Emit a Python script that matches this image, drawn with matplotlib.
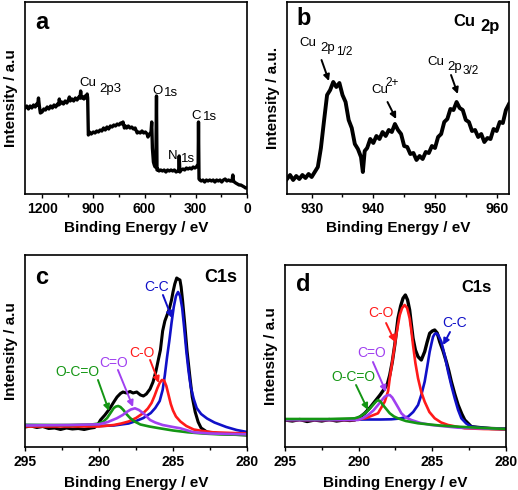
import matplotlib
matplotlib.use("Agg")
import matplotlib.pyplot as plt

plt.rcParams["font.family"] = ["Liberation Sans", "DejaVu Sans"]

# ─────────────────────────────────────────────
# (a) survey spectrum
# ─────────────────────────────────────────────
survey_be = [1300, 1290, 1280, 1270, 1260, 1250, 1240, 1232, 1226, 1221, 1216, 1210,
             1200, 1190, 1180, 1170, 1160, 1150, 1140, 1130, 1120, 1110, 1103, 1099,
             1095, 1085, 1075, 1065, 1055, 1046, 1040, 1035, 1025, 1015, 1005, 995,
             985, 978, 974, 970, 962, 955, 948, 941, 936, 933, 929, 922, 912, 900,
             890, 880, 870, 860, 850, 840, 830, 820, 810, 800, 790, 780, 770, 760,
             750, 740, 732, 726, 718, 712, 705, 695, 685, 675, 665, 655, 648, 643,
             635, 625, 615, 605, 595, 585, 580, 570, 562, 558, 554, 548, 543, 538,
             534, 530, 527, 523, 515, 505, 495, 485, 475, 465, 455, 445, 435, 425,
             415, 405, 400, 397, 393, 385, 375, 365, 355, 345, 335, 325, 315, 305,
             297, 290, 286, 284, 281, 276, 268, 258, 248, 238, 228, 218, 208, 198,
             188, 178, 168, 158, 148, 138, 128, 118, 108, 98, 88, 83, 79, 74, 66,
             56, 46, 36, 26, 16, 8, 0]
survey_int = [86, 88, 85, 88, 86, 89, 87, 90, 89, 96, 88, 81,
              82, 85, 84, 87, 85, 88, 86, 89, 87, 90, 89, 95,
              90, 92, 90, 93, 91, 94, 97, 93, 95, 93, 96, 94,
              97, 96, 103, 96, 97, 95, 98, 96, 100, 96, 59, 62, 60, 62,
              61, 63, 62, 64, 63, 66, 64, 67, 65, 68, 67, 69, 68, 70,
              69, 71, 70, 72, 66, 68, 66, 68, 66, 67, 65, 66, 63, 61,
              62, 61, 63, 61, 62, 60, 57, 60, 62, 72, 46, 32, 29, 27,
              28, 98, 24, 25, 23, 24, 23, 24, 22, 24, 23, 24, 23, 24,
              22, 23, 24, 38, 22, 24, 25, 24, 26, 25, 26, 25, 27, 26,
              27, 29, 30, 72, 15, 14, 13, 14, 12, 14, 13, 14, 13, 14,
              12, 14, 13, 14, 12, 14, 15, 13, 14, 13, 13, 19, 13, 12, 11,
              10, 9, 9, 8, 7, 6, 6]

# ─────────────────────────────────────────────
# (b) Cu 2p
# ─────────────────────────────────────────────
cu_be = [926.0, 926.5, 927.0, 927.5, 928.0, 928.5, 929.0, 929.5, 930.0, 930.5,
         931.0, 931.5, 932.0, 932.5, 933.0, 933.5, 934.0, 934.5, 935.0, 935.5,
         936.0, 936.5, 937.0, 937.5, 938.0, 938.3, 938.6, 939.0, 939.5, 940.0,
         940.5, 941.0, 941.5, 942.0, 942.5, 943.0, 943.5, 944.0, 944.5, 945.0,
         945.5, 946.0, 946.5, 947.0, 947.5, 948.0, 948.5, 949.0, 949.5, 950.0,
         950.5, 951.0, 951.5, 952.0, 952.5, 953.0, 953.5, 954.0, 954.5, 955.0,
         955.5, 956.0, 956.5, 957.0, 957.5, 958.0, 958.5, 959.0, 959.5, 960.0,
         960.5, 961.0, 961.5, 962.0]
cu_int = [15, 19, 14, 18, 15, 19, 16, 20, 17, 22,
          27, 46, 73, 99, 104, 112, 107, 111, 99, 92,
          74, 66, 50, 45, 37, 22, 43, 46, 55, 51,
          58, 55, 62, 58, 64, 62, 70, 64, 60, 48,
          47, 40, 41, 34, 38, 35, 42, 41, 48, 46,
          57, 60, 72, 75, 85, 84, 92, 86, 84, 74,
          72, 63, 64, 57, 60, 52, 56, 55, 65, 63,
          72, 71, 84, 90]

# ─────────────────────────────────────────────
# (c) C1s, sample 1
# ─────────────────────────────────────────────
c_exp_be = [295, 294.6, 294.2, 293.8, 293.4, 293, 292.6, 292.2, 291.8, 291.4, 291,
            290.6, 290.3, 290.05, 289.9, 289.6, 289.26, 289.0, 288.78, 288.55, 288.38,
            288.15, 287.9, 287.7, 287.45, 287.2, 287.0, 286.8, 286.55, 286.35, 286.15,
            285.98, 285.85, 285.7, 285.55, 285.4, 285.25, 285.1, 285.0, 284.88, 284.75,
            284.65, 284.53, 284.45, 284.35, 284.2, 284.05, 283.85, 283.7, 283.5, 283.3,
            283.1, 282.7, 282, 281, 280]
c_exp_int = [20, 21, 19.5, 20.5, 18.5, 19, 17.5, 19, 18, 18.5, 17.5,
             18.8, 19.5, 23, 27, 32, 38.7, 45, 50, 53.5, 55,
             54, 55.5, 54, 55, 52, 51, 53, 58, 65, 76,
             88, 97, 116, 126, 132, 138, 147, 155, 163, 169,
             168, 167, 160, 146, 122, 96, 69, 50, 35, 25,
             19, 15, 13.5, 12.7, 12]
c_cc_be = [295, 292, 290, 289, 288, 287.5, 287, 286.5, 286.2, 285.9, 285.7, 285.55,
           285.4, 285.25, 285.1, 284.95, 284.8, 284.66, 284.52, 284.38, 284.25, 284.1,
           283.95, 283.8, 283.6, 283.4, 283.1, 282.7, 282.2, 281.4, 280.7, 280]
c_cc_int = [22, 21.5, 21, 21.5, 23.5, 26, 29, 34, 39, 46, 57, 72,
            90, 106, 124, 140, 151, 155, 151, 139, 120, 96,
            76, 60, 48, 39, 33, 28.5, 24.5, 20, 17, 15]
c_co_be = [295, 292, 290, 289, 288.5, 288, 287.5, 287, 286.7, 286.45, 286.25, 286.05,
           285.9, 285.75, 285.6, 285.45, 285.3, 285.15, 285, 284.8, 284.5, 284.1,
           283.6, 283, 282.3, 281, 280]
c_co_int = [20.5, 20.5, 20.5, 22, 23.5, 25.5, 29, 34, 38.5, 44, 51, 59,
            64, 67, 66.5, 61, 52, 43, 36.5, 30.5, 25.5, 21,
            17.5, 16, 14.7, 14, 13.5]
c_c_o_be = [295, 292, 290, 289.4, 288.8, 288.4, 288.1, 287.85, 287.57, 287.3, 287.0,
            286.75, 286.55, 286.2, 285.7, 285, 284.5, 283.6, 282.5, 281, 280]
c_c_o_int = [21.5, 22, 22.7, 25, 28.7, 32, 35.3, 37.5, 38.7, 37, 33.7,
             30, 27, 24.5, 22, 20, 18.7, 14.7, 13.5, 13, 12.7]
c_occo_be = [295, 292, 290.5, 290, 289.7, 289.45, 289.2, 289.0, 288.85, 288.7, 288.55,
             288.35, 288.15, 287.9, 287.6, 287.2, 286.6, 285.9, 285, 284, 283, 282, 280]
c_occo_int = [22, 22, 22.5, 23.5, 25.5, 29, 34.5, 39, 40.5, 41, 40,
              37, 33, 29, 25.5, 22.5, 20.5, 18.7, 16.5, 14.7, 13.5, 12.7, 12]

# ─────────────────────────────────────────────
# (d) C1s, sample 2
# ─────────────────────────────────────────────
d_exp_be = [295, 294.5, 294, 293.5, 293, 292.5, 292, 291.5, 291, 290.6, 290.27,
            289.9, 289.59, 289.25, 288.91, 288.55, 288.23, 288.05, 287.89, 287.72,
            287.55, 287.33, 287.15, 286.99, 286.83, 286.68, 286.54, 286.42, 286.31,
            286.15, 285.97, 285.75, 285.52, 285.35, 285.18, 285.0, 284.84, 284.67,
            284.5, 284.27, 284.05, 283.88, 283.71, 283.48, 283.25, 283.0, 282.8,
            282.35, 281.5, 281, 280]
d_exp_int = [27, 26, 27.5, 25.5, 27, 26, 27.5, 26, 27, 26.5, 27,
             30, 33.7, 39, 45.3, 52, 58.7, 63, 72, 85,
             102, 128.7, 141, 148.7, 152, 147, 137, 122, 108.7,
             97, 90.3, 87, 95.3, 105, 113.7, 116, 117, 114,
             105.3, 96, 85.3, 76, 65.3, 53, 42, 33, 27,
             20.3, 19, 18.5, 18]
d_co_be = [295, 292, 290.27, 289.5, 288.69, 288.23, 288.0, 287.89, 287.72, 287.55,
           287.38, 287.21, 287.05, 286.88, 286.71, 286.54, 286.42, 286.31, 286.15,
           285.97, 285.75, 285.52, 285.2, 284.84, 284.4, 283.93, 282.8, 281.5, 280]
d_co_int = [27, 27, 27, 29, 33.7, 45.3, 56, 68.7, 85, 102,
            118, 132, 139, 142, 139, 128.7, 116, 102, 84,
            68.7, 55, 45.3, 35, 28.7, 24.5, 22, 18.7, 18, 17.7]
d_cc_be = [295, 292, 290, 288.5, 287.78, 287.2, 286.65, 286.3, 285.97, 285.75, 285.52,
           285.35, 285.18, 285.05, 284.95, 284.84, 284.73, 284.6, 284.39, 284.15,
           283.93, 283.7, 283.48, 283.25, 283.03, 282.7, 282.35, 281.5, 280]
d_cc_int = [27, 27, 27.5, 27.5, 27.7, 28.5, 30.3, 35, 42, 52, 65.3,
            80, 95.3, 104, 110.3, 113, 113.7, 112, 105.3, 91,
            75.3, 61, 48.7, 37, 28.7, 23.5, 20.3, 19, 18]
d_c_o_be = [295, 292, 290.04, 289.7, 289.37, 289.0, 288.69, 288.45, 288.23, 288.05,
            287.89, 287.72, 287.55, 287.3, 287.1, 286.8, 286.42, 285.8, 285.07,
            283.25, 281.5, 280]
d_c_o_int = [27, 27, 27, 29, 32, 36.5, 42, 46.5, 50.3, 51.7,
             52, 49.5, 45.3, 39, 33.7, 29.5, 27, 24, 22,
             19.3, 18.5, 18]
d_occo_be = [295, 292, 290.27, 289.9, 289.59, 289.3, 289.03, 288.85, 288.69, 288.52,
             288.35, 288.1, 287.89, 287.6, 287.33, 286.8, 285.97, 284.5, 283.25,
             281.5, 280]
d_occo_int = [28, 28, 28.7, 30.5, 33.7, 37.5, 42, 45, 47, 45.5,
              42, 37.5, 33.7, 30.5, 28.7, 26, 23.7, 21.5, 20.3, 19, 18]

COL_CC = "#1010c8"
COL_CO = "#ff1a1a"
COL_C_O = "#a040f0"
COL_OCCO = "#149614"

fig = plt.figure(figsize=(5.18, 4.90), dpi=100)
ax_a = fig.add_axes([0.04826, 0.60408, 0.42857, 0.39184])
ax_b = fig.add_axes([0.55405, 0.60408, 0.42857, 0.39184])
ax_c = fig.add_axes([0.04826, 0.08776, 0.42857, 0.39184])
ax_d = fig.add_axes([0.55019, 0.08776, 0.42664, 0.37143])


def style_axes(ax, ylabel, major, minor, xpad=3):
    ax.set_yticks([])
    ax.xaxis.set_major_locator(matplotlib.ticker.MultipleLocator(major))
    ax.xaxis.set_minor_locator(matplotlib.ticker.MultipleLocator(minor))
    ax.tick_params(axis="x", which="major", direction="out", length=3, width=1,
                   pad=3, labelsize=10)
    ax.tick_params(axis="x", which="minor", direction="out", length=2, width=1)
    for lab in ax.get_xticklabels():
        lab.set_fontweight("bold")
    for sp in ax.spines.values():
        sp.set_linewidth(1.2)
    ax.set_xlabel("Binding Energy / eV", fontsize=11, fontweight="bold", labelpad=xpad)
    ax.set_ylabel(ylabel, fontsize=11, fontweight="bold", labelpad=5)


def arrow(ax, start, end, color):
    ax.annotate("", xy=end, xytext=start,
                arrowprops=dict(arrowstyle="-|>", color=color, lw=1.4,
                                mutation_scale=9, shrinkA=0, shrinkB=0))


def label(ax, x, y, s, size=9.5, ha="center", **kw):
    ax.text(x, y, s, fontsize=size, ha=ha, va="center", **kw)


# (a)
ax_a.plot(survey_be, survey_int, color="black", lw=2.4)
ax_a.set_xlim(1300, 0)
ax_a.set_ylim(0, 192)
ax_a.set_xticks([1200, 900, 600, 300, 0])
style_axes(ax_a, "Intensity / a.u", 300, 150)
label(ax_a, 1200, 171, "a", size=17, fontweight="bold")
label(ax_a, 934, 111, "Cu")
label(ax_a, 802, 105, "2p3")
label(ax_a, 527, 103, "O")
label(ax_a, 445, 101, "1s")
label(ax_a, 433, 38, "N")
label(ax_a, 345, 35, "1s")
label(ax_a, 299, 78, "C")
label(ax_a, 217, 77, "1s")

# (b)
ax_b.plot(cu_be, cu_int, color="black", lw=2.8)
ax_b.set_xlim(926, 962)
ax_b.set_ylim(0, 192)
style_axes(ax_b, "Intensity / a.u.", 10, 5)
label(ax_b, 928.7, 175, "b", size=17, fontweight="bold")
label(ax_b, 954.8, 172, "Cu", size=12, fontweight="bold")
label(ax_b, 958.9, 167, "2p", size=12, fontweight="bold")
label(ax_b, 929.4, 151, "Cu")
label(ax_b, 932.6, 146, "2p")
label(ax_b, 933.9, 142, "1/2", size=8.5, ha="left")
arrow(ax_b, (931.6, 134), (932.8, 113), "black")
label(ax_b, 941.0, 104, "Cu")
label(ax_b, 943.1, 111, "2+", size=8.5)
arrow(ax_b, (942.3, 92), (943.7, 75), "black")
label(ax_b, 950.2, 132, "Cu")
label(ax_b, 953.2, 127, "2p")
label(ax_b, 954.5, 123, "3/2", size=8.5, ha="left")
arrow(ax_b, (952.6, 119), (953.7, 100), "black")

# (c)
ax_c.plot(c_exp_be, c_exp_int, color="black", lw=2.2)
ax_c.plot(c_cc_be, c_cc_int, color=COL_CC, lw=1.9)
ax_c.plot(c_co_be, c_co_int, color=COL_CO, lw=1.9)
ax_c.plot(c_occo_be, c_occo_int, color=COL_OCCO, lw=1.9)
ax_c.plot(c_c_o_be, c_c_o_int, color=COL_C_O, lw=1.9)
ax_c.set_xlim(295, 280)
ax_c.set_ylim(0, 192)
style_axes(ax_c, "Intensity / a.u", 5, 2.5, xpad=5)
label(ax_c, 293.85, 169, "c", size=17, fontweight="bold")
label(ax_c, 281.8, 169, "C1s", size=13, fontweight="bold")
label(ax_c, 286.08, 160, "C-C", size=10, color=COL_CC)
arrow(ax_c, (285.68, 152), (285.07, 129), COL_CC)
label(ax_c, 287.1, 94, "C-O", size=10, color=COL_CO)
arrow(ax_c, (286.55, 87), (285.95, 64), COL_CO)
label(ax_c, 289.0, 84, "C=O", size=10, color=COL_C_O)
arrow(ax_c, (288.72, 77), (287.7, 40), COL_C_O)
label(ax_c, 291.45, 75, "O-C=O", size=10, color=COL_OCCO)
arrow(ax_c, (290.07, 67), (289.32, 36), COL_OCCO)

# (d)
ax_d.plot(d_exp_be, d_exp_int, color="black", lw=2.4)
ax_d.plot(d_cc_be, d_cc_int, color=COL_CC, lw=1.9)
ax_d.plot(d_co_be, d_co_int, color=COL_CO, lw=1.9)
ax_d.plot(d_c_o_be, d_c_o_int, color=COL_C_O, lw=1.9)
ax_d.plot(d_occo_be, d_occo_int, color=COL_OCCO, lw=1.9)
ax_d.set_xlim(295, 280)
ax_d.set_ylim(0, 182)
style_axes(ax_d, "Intensity / a.u", 5, 2.5, xpad=5)
label(ax_d, 293.78, 162, "d", size=17, fontweight="bold")
label(ax_d, 282.03, 159, "C1s", size=12, fontweight="bold")
label(ax_d, 288.48, 134, "C-O", size=10, color=COL_CO)
arrow(ax_d, (288.14, 124), (287.53, 105), COL_CO)
label(ax_d, 283.46, 124, "C-C", size=10, color=COL_CC)
arrow(ax_d, (283.8, 115), (284.27, 102), COL_CC)
label(ax_d, 289.1, 94, "C=O", size=10, color=COL_C_O)
arrow(ax_d, (289.03, 85), (288.14, 55), COL_C_O)
label(ax_d, 290.38, 70, "O-C=O", size=10, color=COL_OCCO)
arrow(ax_d, (290.18, 62), (289.37, 37), COL_OCCO)

fig.savefig("out.png", dpi=100)
